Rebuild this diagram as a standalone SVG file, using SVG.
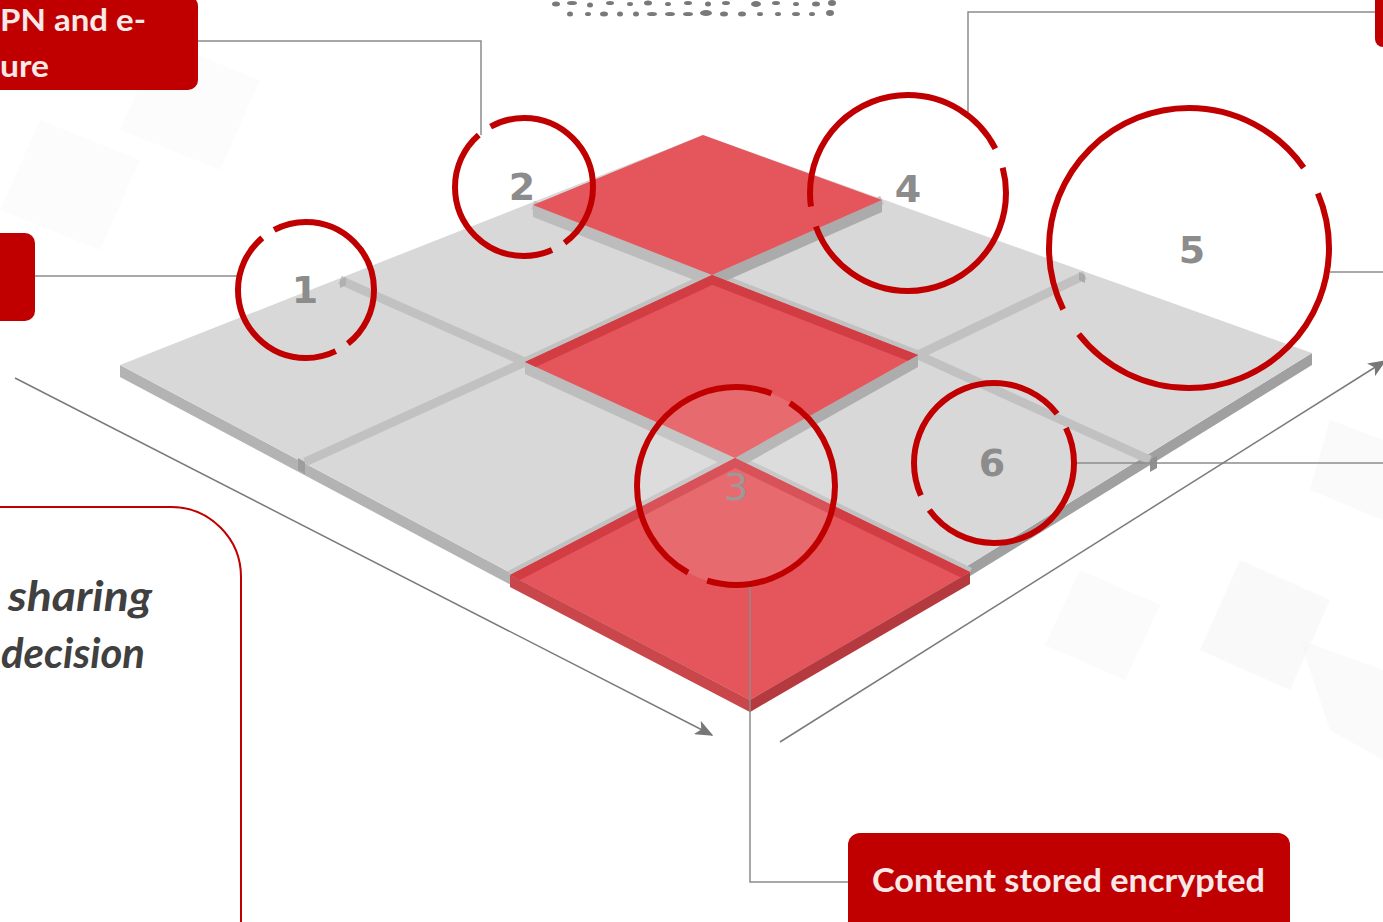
<svg xmlns="http://www.w3.org/2000/svg" width="1383" height="922" viewBox="0 0 1383 922">
<defs>
<style>
.lead{fill:none;stroke:#8c8c8c;stroke-width:1.5}
.axis{fill:none;stroke:#7a7a7a;stroke-width:1.5}
.ring{fill:none;stroke:#c00000;stroke-width:6}
.num{font-family:"DejaVu Sans",sans-serif;font-size:38px;font-weight:bold;fill:#8c8c8c;text-anchor:middle}
.lbl{fill:#c00000}
.lbltxt{font-family:Lato,"Open Sans",sans-serif;font-weight:bold;fill:#f8e8e8}
.note{font-family:Lato,"Open Sans",sans-serif;font-weight:bold;font-style:italic;font-size:42px;fill:#404040}
.groove{fill:none;stroke:#c2c1c1;stroke-width:9;stroke-linejoin:round}
.band{fill:none;stroke:#d23c43;stroke-width:18}
.redtop{fill:#e4565b}
.bg{fill:#f5f5f5}
</style>
<marker id="arr" viewBox="0 0 12 10" refX="11" refY="5" markerWidth="18" markerHeight="15" markerUnits="userSpaceOnUse" orient="auto">
<path d="M0,0 L12,5 L0,10 L3,5 Z" fill="#777"/>
</marker>
<clipPath id="clipC"><polygon points="525,362 712,275 918,355 735,458"/></clipPath>
<clipPath id="clipF"><polygon points="510,575 735,458 970,572 750,700"/></clipPath>
</defs>
<rect x="0" y="0" width="1383" height="922" fill="#ffffff"/>
<g id="background">
<polygon class="bg" points="1240,560 1330,600 1290,690 1200,650" opacity="0.6"/>
<polygon class="bg" points="1300,640 1383,670 1383,760 1330,730" opacity="0.5"/>
<polygon class="bg" points="1080,570 1160,605 1125,680 1045,645" opacity="0.4"/>
<polygon class="bg" points="1330,420 1383,440 1383,520 1310,490" opacity="0.5"/>
<polygon class="bg" points="40,120 140,160 100,250 0,210" opacity="0.35"/>
<polygon class="bg" points="160,40 260,80 220,170 120,130" opacity="0.3"/>
</g>
<g id="icons" fill="#333" opacity="0.65">
<ellipse cx="556" cy="4" rx="4" ry="2.5"/><ellipse cx="572" cy="3" rx="5" ry="2"/><ellipse cx="590" cy="5" rx="3" ry="2.5"/><ellipse cx="610" cy="3" rx="4" ry="2"/><ellipse cx="630" cy="4" rx="3" ry="2"/><ellipse cx="648" cy="3" rx="4" ry="2.5"/><ellipse cx="668" cy="4" rx="3" ry="2"/><ellipse cx="688" cy="3" rx="4" ry="2"/><ellipse cx="708" cy="4" rx="3" ry="2.5"/><ellipse cx="726" cy="3" rx="4" ry="2"/><ellipse cx="756" cy="4" rx="5" ry="3"/><ellipse cx="776" cy="3" rx="4" ry="2"/><ellipse cx="796" cy="4" rx="3" ry="2"/><ellipse cx="816" cy="4" rx="4" ry="2.5"/><ellipse cx="832" cy="3" rx="4" ry="3"/>
<ellipse cx="570" cy="14" rx="3" ry="2.5"/><ellipse cx="588" cy="14" rx="3" ry="2"/><ellipse cx="604" cy="14" rx="4" ry="2.5"/><ellipse cx="620" cy="14" rx="3" ry="2.5"/><ellipse cx="636" cy="14" rx="3" ry="2.5"/><ellipse cx="652" cy="14" rx="5" ry="2"/><ellipse cx="670" cy="14" rx="5" ry="2"/><ellipse cx="688" cy="14" rx="5" ry="2"/><ellipse cx="706" cy="13" rx="6" ry="3"/><ellipse cx="724" cy="14" rx="4" ry="2.5"/><ellipse cx="742" cy="14" rx="4" ry="2.5"/><ellipse cx="760" cy="14" rx="3" ry="2"/><ellipse cx="778" cy="14" rx="3" ry="2"/><ellipse cx="796" cy="14" rx="4" ry="2"/><ellipse cx="812" cy="14" rx="3" ry="2"/><ellipse cx="830" cy="13" rx="4" ry="3"/>
</g>
<g id="board">
<polygon points="120,365 750,700 750,712 120,377" fill="#b3b3b3"/>
<polygon points="750,700 1312,353 1312,365 750,712" fill="#a0a0a0"/>
<polygon points="120,365 703,135 1312,353 750,700" fill="#d9d8d8"/>
<polygon points="305,462 305,474 298,470 298,458" fill="#9d9d9d"/>
<polygon points="1150,460 1150,472 1157,468 1157,456" fill="#909090"/>
<polyline class="groove" points="305,462 525,362 712,275 882,200"/>
<polyline class="groove" points="510,575 735,458 918,355 1085,275"/>
<polyline class="groove" points="340,280 525,362 735,458 970,572"/>
<polyline class="groove" points="533,205 712,275 918,355 1150,460"/>
<polygon points="340,280 346,277 346,285 340,288" fill="#b0b0b0"/>
<polygon points="1085,275 1079,272 1079,280 1085,283" fill="#aaaaaa"/>
</g>
<g id="tile-top">
<polygon points="533,205 712,275 712,287 533,217" fill="#bcbcbc"/>
<polygon points="712,275 882,200 882,212 712,287" fill="#ababab"/>
<polygon class="redtop" points="533,205 703,135 882,200 712,275"/>
</g>
<g id="tile-center">
<polygon points="525,362 735,458 735,470 525,374" fill="#bdbdbd"/>
<polygon points="735,458 918,355 918,367 735,470" fill="#adadad"/>
<polygon class="redtop" points="525,362 712,275 918,355 735,458"/>
<polyline class="band" clip-path="url(#clipC)" points="525,362 712,275 918,355"/>
</g>
<g id="tile-front">
<polygon points="510,575 750,700 750,712 510,587" fill="#c9464b"/>
<polygon points="750,700 970,572 970,584 750,712" fill="#b53a40"/>
<polygon class="redtop" points="510,575 735,458 970,572 750,700"/>
<polyline class="band" clip-path="url(#clipF)" points="510,575 735,458 970,572"/>
</g>
<g id="connectors">
<polyline class="lead" points="198,41 481,41 481,135"/>
<line class="lead" x1="35" y1="276" x2="238" y2="276"/>
<polyline class="lead" points="968,112 968,12 1376,12"/>
<line class="lead" x1="1330" y1="272" x2="1383" y2="272"/>
<line class="lead" x1="1077" y1="463" x2="1383" y2="463"/>
<polyline class="lead" points="750,586 750,882 848,882"/>
<line class="axis" x1="15" y1="378" x2="712" y2="735" marker-end="url(#arr)"/>
<line class="axis" x1="780" y1="742" x2="1385" y2="361" marker-end="url(#arr)"/>
</g>
<g id="node1">
<circle class="ring" cx="306" cy="290" r="68" pathLength="360" stroke-dasharray="52 12 166 12 118"/>
<text class="num" x="305" y="303">1</text>
</g>
<g id="node2">
<circle class="ring" cx="524" cy="187" r="69" pathLength="360" stroke-dasharray="54 12 163 12 119"/>
<text class="num" x="522" y="200">2</text>
</g>
<g id="node3">
<circle class="ring" cx="736" cy="486" r="99" pathLength="360" stroke-dasharray="107 12 172 12 57" style="fill:#ffffff;fill-opacity:0.12"/>
<text class="num" x="736" y="500" style="fill:#9a9a9a;font-weight:normal">3</text>
</g>
<g id="node4">
<circle class="ring" cx="908" cy="193" r="98" pathLength="360" stroke-dasharray="160 12 161 12 15"/>
<text class="num" x="908" y="202">4</text>
</g>
<g id="node5">
<circle class="ring" cx="1189" cy="248" r="140" pathLength="360" stroke-dasharray="142 12 171 12 23"/>
<text class="num" x="1192" y="263">5</text>
</g>
<g id="node6">
<circle class="ring" cx="994" cy="463" r="80" pathLength="360" stroke-dasharray="144 12 166 12 26"/>
<text class="num" x="992" y="476">6</text>
</g>
<g id="label-topleft">
<rect class="lbl" x="-20" y="-4" width="218" height="94" rx="10"/>
<text class="lbltxt" x="0" y="31" font-size="30" textLength="146" lengthAdjust="spacingAndGlyphs">PN and e-</text>
<text class="lbltxt" x="0" y="77" font-size="30" textLength="49" lengthAdjust="spacingAndGlyphs">ure</text>
</g>
<g id="label-left">
<rect class="lbl" x="-20" y="233" width="55" height="88" rx="10"/>
</g>
<g id="label-topright">
<rect class="lbl" x="1375" y="-10" width="30" height="57" rx="8"/>
</g>
<g id="label-bottom">
<rect class="lbl" x="848" y="833" width="442" height="110" rx="12"/>
<text class="lbltxt" x="872" y="892" font-size="32" textLength="393" lengthAdjust="spacingAndGlyphs">Content stored encrypted</text>
</g>
<g id="note-box">
<path d="M-10,507 L171,507 A70,70 0 0 1 241,577 L241,930" fill="#ffffff" stroke="#c00000" stroke-width="2"/>
<text class="note" x="8" y="611" textLength="144" lengthAdjust="spacingAndGlyphs">sharing</text>
<text class="note" x="1" y="668" textLength="144" lengthAdjust="spacingAndGlyphs">decision</text>
</g>
</svg>
